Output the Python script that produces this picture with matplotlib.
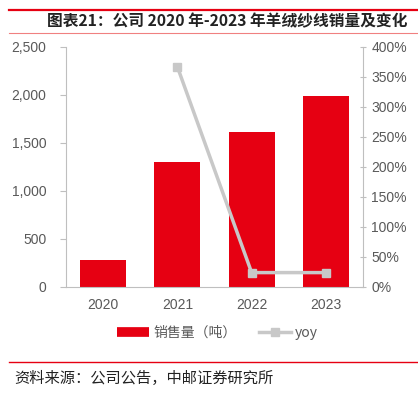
import numpy as np
import matplotlib
matplotlib.use('Agg')
import matplotlib.pyplot as plt
from matplotlib.lines import Line2D
from matplotlib.ticker import FuncFormatter

plt.rcParams['font.family'] = ['Liberation Sans', 'Noto Sans CJK SC', 'DejaVu Sans']

years = ['2020', '2021', '2022', '2023']
sales = [280, 1302, 1612, 1992]
yoy = [None, 3.67, 0.24, 0.24]

red = '#e60012'
grey = '#c8c8c8'
txt = '#595959'
cjk = ['Noto Sans CJK SC', 'DejaVu Sans']

fig = plt.figure(figsize=(4.18, 3.95), dpi=100)

# header / footer decoration
fig.add_artist(Line2D([9/418, 1.0], [1 - 10/395, 1 - 10/395], color=red, lw=1.6))
fig.add_artist(Line2D([9/418, 1.0], [1 - 33/395, 1 - 33/395], color='#f08080', lw=0.8))
fig.add_artist(Line2D([9/418, 1.0], [1 - 362/395, 1 - 362/395], color=red, lw=1.0))
fig.text(0.975, 1 - 21/395, '图表21：公司 2020 年-2023 年羊绒纱线销量及变化', ha='right', va='center',
         fontsize=11.3, fontweight='bold', color='#222222', family=cjk)
fig.text(0.035, 1 - 378/395, '资料来源：公司公告，中邮证券研究所', ha='left', va='center',
         fontsize=11, color='#222222', family=cjk)

ax = fig.add_axes([66/418, 1 - 287/395, 297/418, 240/395])
x = np.arange(len(years))
bars = ax.bar(x, sales, width=0.62, color=red, zorder=2)
ax.set_xlim(-0.5, 3.5)
ax.set_ylim(0, 2500)
ax.set_yticks(np.arange(0, 2501, 500))
ax.yaxis.set_major_formatter(FuncFormatter(lambda v, p: f'{int(v):,}'))
ax.set_xticks(x)
ax.set_xticklabels(years)
for s in ['top', 'right']:
    ax.spines[s].set_visible(False)
ax.spines['left'].set_color('#bfbfbf')
ax.spines['bottom'].set_color('#bfbfbf')
ax.tick_params(axis='y', colors='#bfbfbf', labelcolor=txt, labelsize=10, length=4, pad=10)
ax.tick_params(axis='x', length=0, labelcolor=txt, labelsize=10, pad=8)

ax2 = ax.twinx()
yx = [i for i, v in enumerate(yoy) if v is not None]
yv = [v for v in yoy if v is not None]
line, = ax2.plot(yx, yv, color=grey, lw=2.5, marker='s', markersize=6, zorder=3)
ax2.set_ylim(0, 4.0)
ax2.set_yticks(np.arange(0, 4.01, 0.5))
ax2.yaxis.set_major_formatter(FuncFormatter(lambda v, p: f'{v*100:.0f}%'))
for s in ['top', 'left', 'bottom']:
    ax2.spines[s].set_visible(False)
ax2.spines['right'].set_color('#bfbfbf')
ax2.tick_params(axis='y', colors='#bfbfbf', labelcolor=txt, labelsize=10, length=4, pad=4,
                direction='inout')

h1 = Line2D([0], [0], color=red, lw=7, solid_capstyle='butt')
leg = fig.legend([h1, line], ['销售量（吨）', 'yoy'], loc='center', bbox_to_anchor=(0.52, 1 - 333/395),
                 ncol=2, frameon=False, fontsize=10, labelcolor=txt, handlelength=2.3,
                 columnspacing=1.6, handletextpad=0.3, prop={'family': cjk, 'size': 10})

fig.savefig('out.png', dpi=100)
